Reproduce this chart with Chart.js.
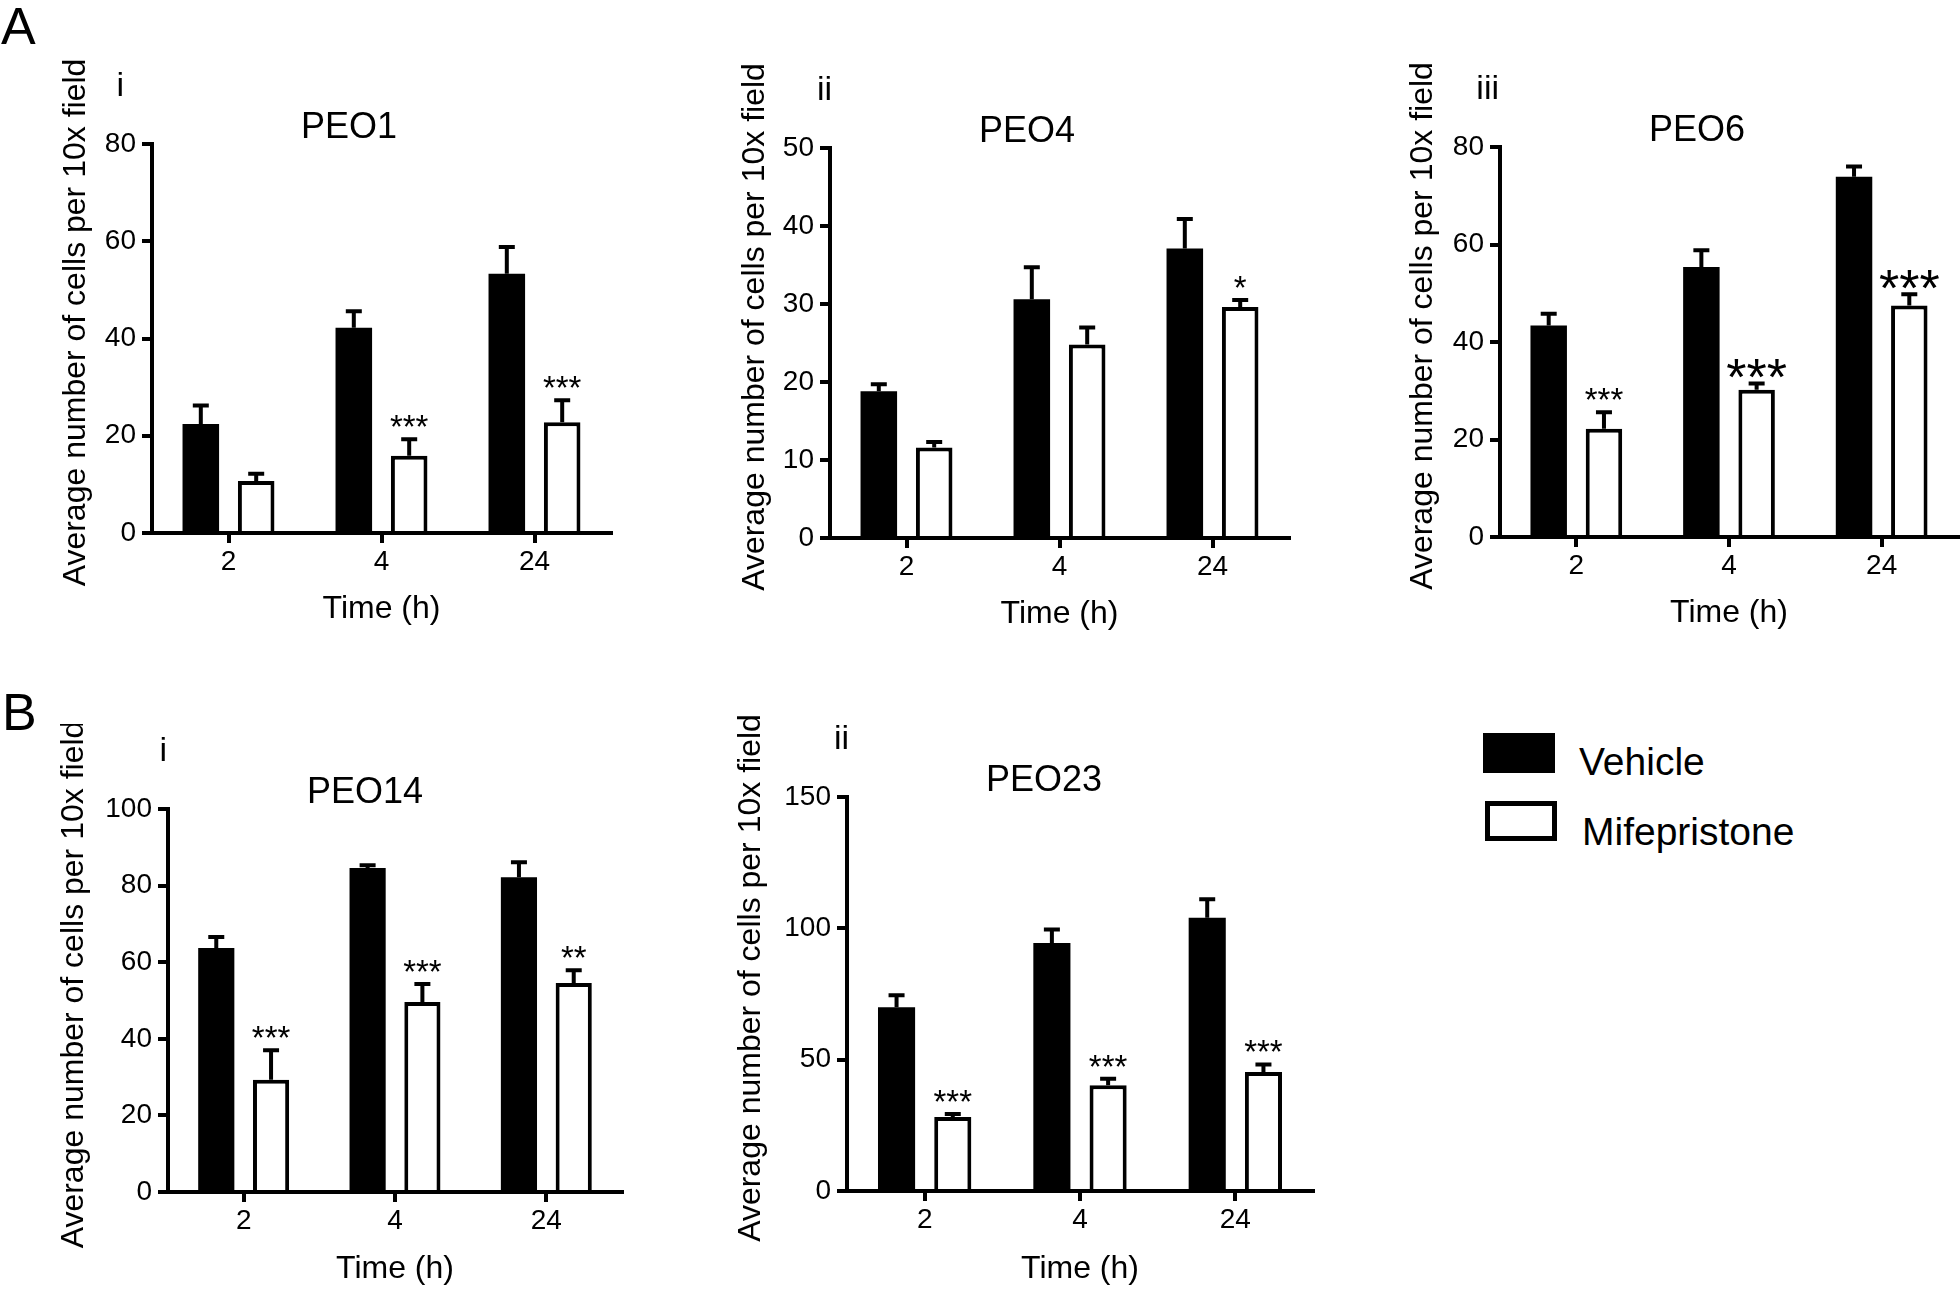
<!DOCTYPE html>
<html><head><meta charset="utf-8">
<script src="https://cdn.jsdelivr.net/npm/chart.js@4"></script>
<style>
html,body{margin:0;padding:0;background:#fff;width:1960px;height:1289px;overflow:hidden;font-family:'Liberation Sans',Arial,sans-serif;}
canvas{position:absolute;}
.lbl{position:absolute;line-height:1;color:#000;white-space:nowrap;}
.box{position:absolute;box-sizing:border-box;}
</style></head><body>
<div class="lbl" style="left:1px;top:0px;font-size:52px;">A</div>
<div class="lbl" style="left:2px;top:686px;font-size:52px;">B</div>
<div class="box" style="left:1483px;top:733px;width:72px;height:40px;background:#000;"></div>
<div class="box" style="left:1485px;top:801px;width:72px;height:40px;border:5px solid #000;background:#fff;"></div>
<div class="lbl" style="left:1579px;top:742px;font-size:39px;">Vehicle</div>
<div class="lbl" style="left:1582px;top:812px;font-size:39px;">Mifepristone</div>
<script>
// ---------- data ----------
const categories = ['2', '4', '24'];
const seriesNames = ['Vehicle', 'Mifepristone'];
const xTitle = 'Time (h)';
const yTitle = 'Average number of cells per 10x field';

const peo1Vehicle = [22.4, 42.2, 53.3];
const peo1VehicleSem = [3.8, 3.4, 5.5];
const peo1Mife = [10.7, 15.9, 22.8];
const peo1MifeSem = [1.5, 3.4, 4.5];
const peo1Stars = ['', '***', '***'];
const peo1Ticks = [0, 20, 40, 60, 80];

const peo4Vehicle = [18.8, 30.6, 37.1];
const peo4VehicleSem = [0.9, 4.1, 3.8];
const peo4Mife = [11.6, 24.8, 29.6];
const peo4MifeSem = [0.7, 2.2, 0.9];
const peo4Stars = ['', '', '*'];
const peo4Ticks = [0, 10, 20, 30, 40, 50];

const peo6Vehicle = [43.4, 55.4, 73.9];
const peo6VehicleSem = [2.4, 3.4, 2.1];
const peo6Mife = [22.2, 30.2, 47.5];
const peo6MifeSem = [3.4, 1.3, 2.3];
const peo6Stars = ['***', '***', '***'];
const peo6Ticks = [0, 20, 40, 60, 80];

const peo14Vehicle = [63.7, 84.6, 82.2];
const peo14VehicleSem = [2.9, 0.7, 3.9];
const peo14Mife = [29.3, 49.6, 54.6];
const peo14MifeSem = [7.7, 4.7, 3.3];
const peo14Stars = ['***', '***', '**'];
const peo14Ticks = [0, 20, 40, 60, 80, 100];

const peo23Vehicle = [70.0, 94.4, 104.0];
const peo23VehicleSem = [4.5, 5.2, 7.1];
const peo23Mife = [28.2, 40.3, 45.3];
const peo23MifeSem = [1.1, 2.4, 2.9];
const peo23Stars = ['***', '***', '***'];
const peo23Ticks = [0, 50, 100, 150];

// ---------- layout (page positions of each plot area) ----------
const FONT = "'Liberation Sans', Arial, sans-serif";
const panels = [
  {title:'PEO1', numeral:'i', v:peo1Vehicle, ve:peo1VehicleSem, m:peo1Mife, me:peo1MifeSem, stars:peo1Stars, ticks:peo1Ticks, big:[false,false,false],
   L:152, T:144, R:611, B:533, yW:95, xH:95, numDx:-30},
  {title:'PEO4', numeral:'ii', v:peo4Vehicle, ve:peo4VehicleSem, m:peo4Mife, me:peo4MifeSem, stars:peo4Stars, ticks:peo4Ticks, big:[false,false,false],
   L:830, T:148, R:1289, B:538, yW:94, xH:95, numDx:0},
  {title:'PEO6', numeral:'iii', v:peo6Vehicle, ve:peo6VehicleSem, m:peo6Mife, me:peo6MifeSem, stars:peo6Stars, ticks:peo6Ticks, big:[false,true,true],
   L:1500, T:147, R:1958, B:537, yW:96, xH:95, numDx:-3},
  {title:'PEO14', numeral:'i', v:peo14Vehicle, ve:peo14VehicleSem, m:peo14Mife, me:peo14MifeSem, stars:peo14Stars, ticks:peo14Ticks, big:[false,false,false],
   L:168, T:809, R:622, B:1192, yW:113, xH:96, numDx:-3},
  {title:'PEO23', numeral:'ii', v:peo23Vehicle, ve:peo23VehicleSem, m:peo23Mife, me:peo23MifeSem, stars:peo23Stars, ticks:peo23Ticks, big:[false,false,false],
   L:847, T:797, R:1313, B:1191, yW:115, xH:97, numDx:0}
];

// ---------- plugins ----------
const errorBarPlugin = {
  id: 'errorBars',
  afterDatasetsDraw(chart) {
    const ctx = chart.ctx, ys = chart.scales.y;
    chart.data.datasets.forEach((ds, i) => {
      const meta = chart.getDatasetMeta(i);
      meta.data.forEach((bar, j) => {
        const yb = ys.getPixelForValue(ds.data[j]);
        const yt = ys.getPixelForValue(ds.data[j] + ds.sem[j]);
        ctx.save();
        ctx.strokeStyle = '#000'; ctx.lineWidth = 4; ctx.lineCap = 'butt';
        ctx.beginPath();
        ctx.moveTo(bar.x, yb); ctx.lineTo(bar.x, yt);
        ctx.moveTo(bar.x - 8, yt); ctx.lineTo(bar.x + 8, yt);
        ctx.stroke();
        ctx.restore();
      });
    });
  }
};
const starPlugin = {
  id: 'stars',
  afterDatasetsDraw(chart) {
    const ctx = chart.ctx, ys = chart.scales.y;
    const ds = chart.data.datasets[1];
    const meta = chart.getDatasetMeta(1);
    meta.data.forEach((bar, j) => {
      const s = ds.stars[j];
      if (!s) return;
      const big = ds.bigStars[j];
      const size = big ? 52 : 33, gap = big ? 5 : 12;
      const yt = ys.getPixelForValue(ds.data[j] + ds.sem[j]);
      ctx.save();
      ctx.font = size + 'px ' + FONT;
      ctx.fillStyle = '#000'; ctx.textAlign = 'center'; ctx.textBaseline = 'alphabetic';
      const mt = ctx.measureText(s);
      ctx.fillText(s, bar.x, yt - gap - mt.actualBoundingBoxDescent);
      ctx.restore();
    });
  }
};
const panelTextPlugin = {
  id: 'panelText',
  afterDraw(chart, args, opts) {
    const ctx = chart.ctx, a = chart.chartArea, ys = chart.scales.y;
    ctx.save();
    ctx.fillStyle = '#000';
    // panel title
    ctx.font = '36px ' + FONT;
    ctx.textAlign = 'center'; ctx.textBaseline = 'middle';
    ctx.fillText(opts.title, a.left + 197, a.top - 16);
    // roman numeral
    ctx.font = '34px ' + FONT;
    ctx.textAlign = 'right'; ctx.textBaseline = 'alphabetic';
    ctx.fillText(opts.numeral, a.left + 2 + opts.numDx, a.top - 48);
    // y axis title (rotated), centred a little above the plot centre
    ctx.font = '32px ' + FONT;
    ctx.textAlign = 'center'; ctx.textBaseline = 'middle';
    ctx.translate(ys.left + 19, (a.top + a.bottom) / 2 - 16);
    ctx.rotate(-Math.PI / 2);
    ctx.fillText(opts.yTitle, 0, 0);
    ctx.restore();
  }
};

function makeChart(p) {
  const x0 = p.L - p.yW - 10, y0 = p.T - 85;
  const x1 = Math.min(p.R + 10, 1960), y1 = p.B + p.xH + 10;
  const cv = document.createElement('canvas');
  cv.width = x1 - x0; cv.height = y1 - y0;
  cv.style.left = x0 + 'px'; cv.style.top = y0 + 'px';
  document.body.appendChild(cv);
  const gridCfg = {display:true, drawOnChartArea:false, drawTicks:true, tickLength:10, tickWidth:4, tickColor:'#000', color:'#000', lineWidth:4};
  new Chart(cv, {
    type: 'bar',
    data: {
      labels: categories,
      datasets: [
        {label: seriesNames[0], data: p.v, sem: p.ve, backgroundColor:'#000', borderColor:'#000', borderWidth:0,
         categoryPercentage:0.724, barPercentage:0.66},
        {label: seriesNames[1], data: p.m, sem: p.me, stars: p.stars, bigStars: p.big, backgroundColor:'#fff', borderColor:'#000', borderWidth:4,
         categoryPercentage:0.724, barPercentage:0.66}
      ]
    },
    options: {
      responsive:false, animation:false, devicePixelRatio:1,
      layout: {padding: {left:10, top:85, right: x1 - p.R, bottom:10}},
      plugins: {legend:{display:false}, tooltip:{enabled:false}, title:{display:false},
                panelText:{title:p.title, numeral:p.numeral, numDx:p.numDx, yTitle:yTitle}},
      scales: {
        x: {
          z:1,
          grid: Object.assign({offset:false}, gridCfg),
          border: {display:true, color:'#000', width:4},
          ticks: {color:'#000', font:{family:FONT, size:28}, padding:2, maxRotation:0},
          title: {display:true, text:xTitle, color:'#000', font:{family:FONT, size:32}, padding:0},
          afterFit(s) { s.height = p.xH; }
        },
        y: {
          z:1,
          min: p.ticks[0], max: p.ticks[p.ticks.length - 1],
          grid: gridCfg,
          border: {display:true, color:'#000', width:4},
          ticks: {stepSize: p.ticks[1] - p.ticks[0], color:'#000', font:{family:FONT, size:28}, padding:6},
          title: {display:false, text:yTitle},
          afterFit(s) { s.width = p.yW; }
        }
      }
    },
    plugins: [errorBarPlugin, starPlugin, panelTextPlugin]
  });
}
panels.forEach(makeChart);
</script>
</body></html>
